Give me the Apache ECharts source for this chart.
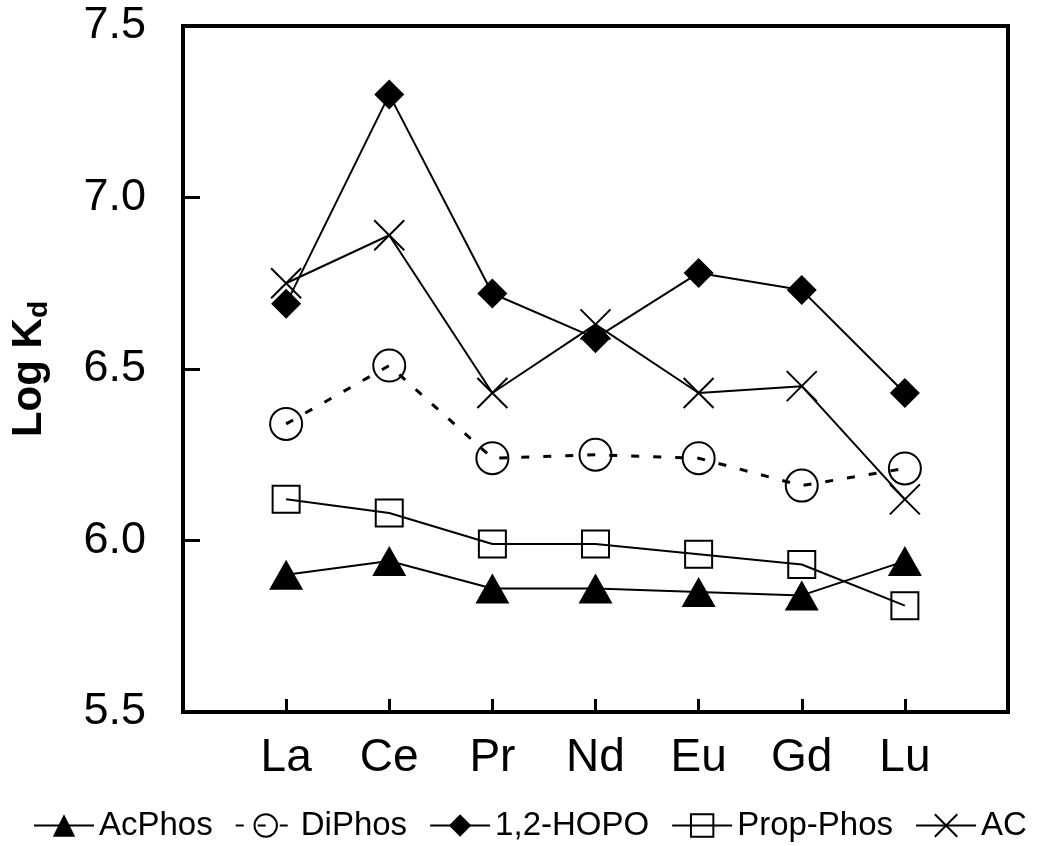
<!DOCTYPE html>
<html>
<head>
<meta charset="utf-8">
<script src="https://cdn.jsdelivr.net/npm/echarts@6/dist/echarts.min.js"></script>
<style>
  html, body { margin: 0; padding: 0; background: #fff; }
  #chart { width: 1050px; height: 846px; }
</style>
</head>
<body>
<div id="chart"></div>
<script>
// 元素 (x axis)
const elements = ['La', 'Ce', 'Pr', 'Nd', 'Eu', 'Gd', 'Lu']
// Log Kd values
const acPhos = [5.90, 5.94, 5.86, 5.86, 5.85, 5.84, 5.94]
const diPhos = [6.34, 6.51, 6.24, 6.25, 6.24, 6.16, 6.21]
const hopo = [6.69, 7.30, 6.72, 6.59, 6.78, 6.73, 6.43]
const propPhos = [6.12, 6.08, 5.99, 5.99, 5.96, 5.93, 5.81]
const ac = [6.75, 6.89, 6.43, 6.63, 6.43, 6.45, 6.12]
const yTicks = [5.5, 6.0, 6.5, 7.0, 7.5]

const font = 'Liberation Sans, Arial, sans-serif'
const crossPath = 'path://M0,0L10,10M10,0L0,10'

function pts(arr) {
  return elements.map((e, i) => [i + 1, arr[i]])
}

function lineSeries(name, arr, symbol, size, filled, dashed) {
  return {
    name: name,
    type: 'line',
    data: pts(arr),
    symbol: symbol,
    symbolSize: size,
    lineStyle: {
      color: '#000',
      width: dashed ? 3 : 2,
      type: dashed ? [8, 14] : 'solid'
    },
    itemStyle: {
      color: filled ? '#000' : 'rgba(0,0,0,0)',
      borderColor: '#000',
      borderWidth: filled ? 0 : 2
    },
    emphasis: { disabled: true }
  }
}

const chart = echarts.init(document.getElementById('chart'))
chart.setOption({
  animation: false,
  backgroundColor: '#fff',
  grid: {
    left: 178,
    right: 42,
    top: 26,
    bottom: 134,
    show: true,
    borderColor: '#000',
    borderWidth: 4
  },
  legend: {
    left: 33,
    bottom: 4,
    padding: 0,
    itemGap: 22,
    itemWidth: 60,
    itemHeight: 28,
    textStyle: { fontFamily: font, fontSize: 33, color: '#000' },
    data: ['AcPhos', 'DiPhos', '1,2-HOPO', 'Prop-Phos', 'AC']
  },
  xAxis: {
    type: 'value',
    min: 0,
    max: 8,
    interval: 1,
    splitLine: { show: false },
    axisLine: { lineStyle: { color: '#000', width: 4 } },
    axisTick: { inside: true, length: 13, lineStyle: { color: '#000', width: 3 } },
    axisLabel: {
      margin: 23,
      fontFamily: font,
      fontSize: 46,
      color: '#000',
      formatter: v => elements[v - 1] || ''
    }
  },
  yAxis: {
    type: 'value',
    min: yTicks[0],
    max: yTicks[yTicks.length - 1],
    interval: 0.5,
    name: '{a|Log K}{b|d}',
    nameLocation: 'middle',
    nameGap: 130,
    nameTextStyle: {
      rich: {
        a: { fontFamily: font, fontSize: 42, fontWeight: 'bold', color: '#000', lineHeight: 48 },
        b: { fontFamily: font, fontSize: 28, fontWeight: 'bold', color: '#000', lineHeight: 18, verticalAlign: 'bottom' }
      }
    },
    splitLine: { show: false },
    axisLine: { lineStyle: { color: '#000', width: 4 } },
    axisTick: { inside: true, length: 17, lineStyle: { color: '#000', width: 3 } },
    axisLabel: {
      margin: 37,
      fontFamily: font,
      fontSize: 45,
      color: '#000',
      formatter: v => v.toFixed(1)
    }
  },
  series: [
    lineSeries('AcPhos', acPhos, 'triangle', [34, 30], true, false),
    lineSeries('DiPhos', diPhos, 'circle', 32, false, true),
    lineSeries('1,2-HOPO', hopo, 'diamond', 30, true, false),
    lineSeries('Prop-Phos', propPhos, 'rect', 27, false, false),
    lineSeries('AC', ac, crossPath, 30, false, false)
  ]
})
</script>
</body>
</html>
